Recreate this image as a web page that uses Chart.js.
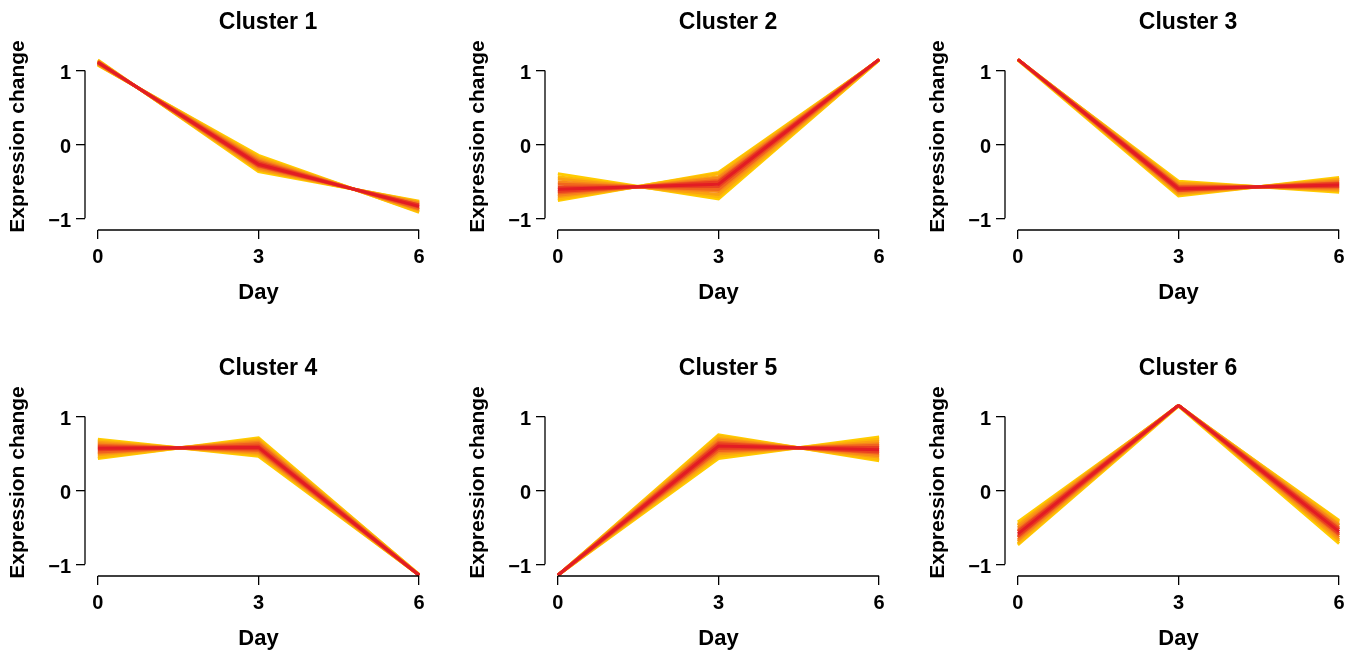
<!DOCTYPE html>
<html>
<head>
<meta charset="utf-8">
<title>Expression clusters</title>
<script src="https://cdn.jsdelivr.net/npm/chart.js@4.4.1/dist/chart.umd.min.js"></script>
<style>
  html, body { margin: 0; padding: 0; background: #fff; }
  #grid { position: relative; width: 1361px; height: 656px; overflow: hidden; }
  .panel { position: absolute; width: 441px; height: 310px; }
</style>
</head>
<body>
<div id="grid"></div>
<script>
// --- data ---
const days = [0, 3, 6];
const dayTicks = [0, 3, 6];
const yTicks = [-1, 0, 1];
const clusterNames = ["Cluster 1", "Cluster 2", "Cluster 3", "Cluster 4", "Cluster 5", "Cluster 6"];

// membership of each line, from one edge of the band, through the core, to the other edge
const membership = [0.42, 0.48, 0.55, 0.62, 0.70, 0.78, 0.86, 0.79, 0.71, 0.63, 0.55, 0.48, 0.42];

// each row = values at day 0, 3, 6
const cluster1 = [
    [1.07, -0.15, -0.92], [1.08, -0.17, -0.91], [1.08, -0.19, -0.89], [1.09, -0.21, -0.88],
    [1.10, -0.23, -0.87], [1.10, -0.25, -0.85], [1.11, -0.27, -0.84], [1.11, -0.29, -0.82],
    [1.12, -0.30, -0.82], [1.12, -0.32, -0.80], [1.13, -0.34, -0.79], [1.13, -0.35, -0.78],
    [1.14, -0.37, -0.77]
];
const cluster2 = [
    [-0.40, -0.74, 1.14], [-0.44, -0.71, 1.14], [-0.47, -0.68, 1.15], [-0.51, -0.64, 1.15],
    [-0.54, -0.61, 1.15], [-0.58, -0.57, 1.15], [-0.61, -0.54, 1.15], [-0.64, -0.51, 1.15],
    [-0.66, -0.49, 1.15], [-0.69, -0.46, 1.15], [-0.71, -0.44, 1.15], [-0.74, -0.40, 1.14],
    [-0.76, -0.38, 1.14]
];
const cluster3 = [
    [1.14, -0.50, -0.65], [1.15, -0.52, -0.63], [1.15, -0.53, -0.62], [1.15, -0.55, -0.60],
    [1.15, -0.57, -0.58], [1.15, -0.58, -0.57], [1.15, -0.60, -0.55], [1.15, -0.62, -0.53],
    [1.15, -0.63, -0.52], [1.15, -0.65, -0.50], [1.15, -0.67, -0.48], [1.15, -0.68, -0.47],
    [1.14, -0.70, -0.45]
];
const cluster4 = [
    [0.69, 0.46, -1.15], [0.67, 0.48, -1.15], [0.65, 0.50, -1.15], [0.63, 0.52, -1.15],
    [0.61, 0.54, -1.15], [0.59, 0.56, -1.15], [0.57, 0.58, -1.15], [0.55, 0.60, -1.15],
    [0.52, 0.63, -1.15], [0.50, 0.65, -1.15], [0.48, 0.67, -1.15], [0.45, 0.69, -1.14],
    [0.43, 0.71, -1.14]
];
const cluster5 = [
    [-1.15, 0.75, 0.40], [-1.15, 0.73, 0.42], [-1.15, 0.70, 0.45], [-1.15, 0.68, 0.47],
    [-1.15, 0.65, 0.50], [-1.15, 0.63, 0.52], [-1.15, 0.60, 0.55], [-1.15, 0.57, 0.58],
    [-1.15, 0.54, 0.61], [-1.15, 0.52, 0.63], [-1.15, 0.49, 0.66], [-1.15, 0.46, 0.69],
    [-1.15, 0.43, 0.72]
];
const cluster6 = [
    [-0.43, 1.14, -0.72], [-0.46, 1.15, -0.69], [-0.48, 1.15, -0.67], [-0.51, 1.15, -0.64],
    [-0.54, 1.15, -0.61], [-0.56, 1.15, -0.59], [-0.59, 1.15, -0.56], [-0.62, 1.15, -0.53],
    [-0.64, 1.15, -0.51], [-0.67, 1.15, -0.48], [-0.69, 1.15, -0.46], [-0.72, 1.15, -0.43],
    [-0.74, 1.14, -0.41]
];
const clusters = [cluster1, cluster2, cluster3, cluster4, cluster5, cluster6];

// --- look ---
const FONT = "'Liberation Sans', Arial, Helvetica, sans-serif";
const INK = "#000";
const panelLeft = [0, 460, 920];
const panelTop = [0, 346];

// yellow (low membership) -> orange -> red (high membership)
function memberColor(m) {
    const lo = Math.min(...membership), hi = Math.max(...membership);
    const t = (m - lo) / (hi - lo);
    const stops = [[255, 204, 0], [246, 130, 28], [226, 28, 36]];
    const seg = t < 0.5 ? 0 : 1;
    const f = t < 0.5 ? t / 0.5 : (t - 0.5) / 0.5;
    const c = stops[seg].map((v, i) => Math.round(v + (stops[seg + 1][i] - v) * f));
    return `rgb(${c[0]},${c[1]},${c[2]})`;
}

// R-style axes: lines only span the tick range, plus panel title and y label
const rStyle = {
    id: "rStyle",
    afterDraw(chart) {
        const { ctx, chartArea, scales: { x, y } } = chart;
        ctx.save();
        ctx.strokeStyle = INK;
        ctx.lineWidth = 1.3;
        ctx.beginPath();
        ctx.moveTo(x.getPixelForValue(dayTicks[0]), chartArea.bottom);
        ctx.lineTo(x.getPixelForValue(dayTicks[dayTicks.length - 1]), chartArea.bottom);
        ctx.moveTo(chartArea.left, y.getPixelForValue(yTicks[0]));
        ctx.lineTo(chartArea.left, y.getPixelForValue(yTicks[yTicks.length - 1]));
        ctx.stroke();

        ctx.fillStyle = INK;
        ctx.textAlign = "center";
        ctx.textBaseline = "alphabetic";
        ctx.font = `bold 23px ${FONT}`;
        ctx.fillText(chart.options.plugins.rStyle.title, 268, 28.5);

        ctx.translate(18.5, 136.5);
        ctx.rotate(-Math.PI / 2);
        ctx.textBaseline = "middle";
        ctx.font = `bold 21px ${FONT}`;
        ctx.fillText("Expression change", 0, 0);
        ctx.restore();
    }
};

const grid = document.getElementById("grid");

clusters.forEach((rows, k) => {
    const wrap = document.createElement("div");
    wrap.className = "panel";
    wrap.style.left = panelLeft[k % 3] + "px";
    wrap.style.top = panelTop[Math.floor(k / 3)] + "px";
    const canvas = document.createElement("canvas");
    canvas.width = 441;
    canvas.height = 310;
    wrap.appendChild(canvas);
    grid.appendChild(wrap);

    const datasets = rows.map((row, i) => ({
        data: days.map((d, j) => ({ x: d, y: row[j] })),
        borderColor: memberColor(membership[i]),
        borderWidth: 3,
        pointRadius: 0,
        tension: 0,
        order: 1 - membership[i]   // core members drawn last, on top
    }));

    new Chart(canvas, {
        type: "line",
        data: { datasets },
        options: {
            responsive: false,
            animation: false,
            devicePixelRatio: 1,
            layout: { padding: { top: 58.6, right: 9, left: 0, bottom: 0 } },
            plugins: {
                legend: { display: false },
                tooltip: { enabled: false },
                rStyle: { title: clusterNames[k] }
            },
            scales: {
                x: {
                    type: "linear",
                    min: -0.24,
                    max: 6.24,
                    afterBuildTicks: s => { s.ticks = dayTicks.map(v => ({ value: v })); },
                    afterFit: s => { s.height = 80; },
                    grid: { drawOnChartArea: false, drawTicks: true, tickLength: 9, color: INK, lineWidth: 1.3 },
                    border: { display: false },
                    ticks: {
                        color: INK, padding: 6,
                        font: { family: FONT, size: 20, weight: "bold" },
                        callback: v => String(v)
                    },
                    title: {
                        display: true, text: "Day", color: INK,
                        font: { family: FONT, size: 22, weight: "bold" },
                        padding: { top: 0, bottom: 4 }
                    }
                },
                y: {
                    min: -1.16,
                    max: 1.16,
                    afterBuildTicks: s => { s.ticks = yTicks.map(v => ({ value: v })); },
                    afterFit: s => { s.width = 85; },
                    grid: { drawOnChartArea: false, drawTicks: true, tickLength: 9, color: INK, lineWidth: 1.3 },
                    border: { display: false },
                    ticks: {
                        color: INK, padding: 5, labelOffset: 3,
                        font: { family: FONT, size: 20, weight: "bold" },
                        callback: v => (v < 0 ? "\u2212" + Math.abs(v) : String(v))
                    }
                }
            }
        },
        plugins: [rStyle]
    });
});
</script>
</body>
</html>
